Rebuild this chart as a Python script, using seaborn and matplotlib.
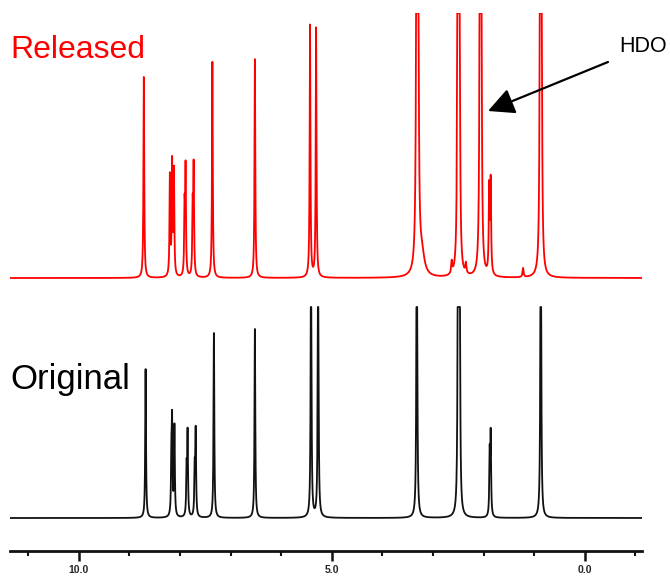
import numpy as np
import pandas as pd
import matplotlib
matplotlib.use("Agg")
import matplotlib.pyplot as plt
import seaborn as sns
from matplotlib.ticker import MultipleLocator, FormatStrFormatter

# ---- data (chemical shift in ppm, peak heights / half-widths) ----
released_ppm = [8.715, 8.20, 8.156, 8.12, 7.91, 7.89, 7.75, 7.73, 7.36, 6.52,
                5.43, 5.31, 3.32, 3.30, 3.22, 2.63, 2.51, 2.48, 2.35, 2.07, 2.05,
                1.89, 1.86, 1.22, 0.88, 0.86]
released_h = [201, 100, 112, 104, 65, 106, 65, 107, 216, 220,
              252, 250, 700, 700, 20, 12, 600, 600, 10, 600, 600,
              85, 92, 9, 600, 600]
released_w = [0.009, 0.009, 0.009, 0.009, 0.009, 0.009, 0.009, 0.009, 0.009, 0.009,
              0.009, 0.009, 0.010, 0.010, 0.060, 0.012, 0.009, 0.009, 0.012, 0.009, 0.009,
              0.010, 0.010, 0.012, 0.009, 0.009]

original_ppm = [8.68, 8.17, 8.156, 8.11, 7.87, 7.85, 7.71, 7.69, 7.33, 6.52,
                5.41, 5.27, 3.32, 2.505, 2.475, 1.88, 1.86, 0.87]
original_h = [149, 55, 88, 90, 45, 82, 45, 84, 185, 190,
              300, 300, 400, 400, 400, 60, 80, 400]
original_w = [0.009] * len(original_ppm)

series_labels = ["Released", "Original"]
tick_values = [10.0, 5.0, 0.0]

# ---- build spectra from the peak lists (Lorentzian lines) ----
ppm = np.linspace(-1.2, 11.45, 9001)


def spectrum(centres, heights, widths):
    y = np.zeros_like(ppm)
    for c, h, w in zip(centres, heights, widths):
        y += h * w ** 2 / ((ppm - c) ** 2 + w ** 2)
    return y


RED_OFFSET, RED_CLIP = 273, 265
BLACK_OFFSET, BLACK_CLIP = 33, 211

red = RED_OFFSET + np.minimum(spectrum(released_ppm, released_h, released_w), RED_CLIP)
black = BLACK_OFFSET + np.minimum(spectrum(original_ppm, original_h, original_w), BLACK_CLIP)

df_red = pd.DataFrame({"ppm": ppm, "y": red})
df_black = pd.DataFrame({"ppm": ppm, "y": black})

# ---- plot ----
sns.set_style("white")
plt.rcParams["font.family"] = ["Liberation Sans", "DejaVu Sans"]

fig = plt.figure(figsize=(6.7, 5.78), dpi=100)
ax = fig.add_axes([10 / 670, 27 / 578, 632 / 670, 538 / 578])

sns.lineplot(data=df_red, x="ppm", y="y", color="#ff0000", lw=1.3,
             estimator=None, sort=False, ax=ax)
sns.lineplot(data=df_black, x="ppm", y="y", color="#111111", lw=1.3,
             estimator=None, sort=False, ax=ax)

ax.set_xlim(11.36, -1.13)
ax.set_ylim(0, 538)
ax.set_xlabel("")
ax.set_ylabel("")
ax.set_yticks([])
for s in ["top", "left", "right"]:
    ax.spines[s].set_visible(False)
ax.spines["bottom"].set_linewidth(2)
ax.spines["bottom"].set_color("#111111")

ax.set_xticks(tick_values)
ax.xaxis.set_major_formatter(FormatStrFormatter("%.1f"))
ax.xaxis.set_minor_locator(MultipleLocator(1.0))
ax.tick_params(axis="x", which="major", direction="out", length=7.5, width=1.8,
               pad=2.5, labelsize=7.5, color="#111111", bottom=True)
ax.tick_params(axis="x", which="minor", direction="out", length=3.5, width=1.5,
               color="#111111", bottom=True)
for lab in ax.get_xticklabels():
    lab.set_fontweight("bold")

# labels
ax.text(10 / 670, (578 - 50) / 578, series_labels[0], transform=fig.transFigure,
        color="#ff0000", fontsize=23, ha="left", va="center")
ax.text(10 / 670, (578 - 380) / 578, series_labels[1], transform=fig.transFigure,
        color="black", fontsize=25, ha="left", va="center")

# HDO annotation
ax.text(643 / 670, (578 - 46) / 578, "HDO", transform=fig.transFigure,
        color="black", fontsize=15.5, ha="center", va="center")
ax.annotate("", xy=(488 / 670, (578 - 111) / 578),
            xytext=(608 / 670, (578 - 62) / 578),
            xycoords=fig.transFigure, textcoords=fig.transFigure,
            arrowprops=dict(arrowstyle="-|>", color="black", lw=1.6,
                            mutation_scale=40, shrinkA=0, shrinkB=0))

fig.savefig("out.png", dpi=100)
